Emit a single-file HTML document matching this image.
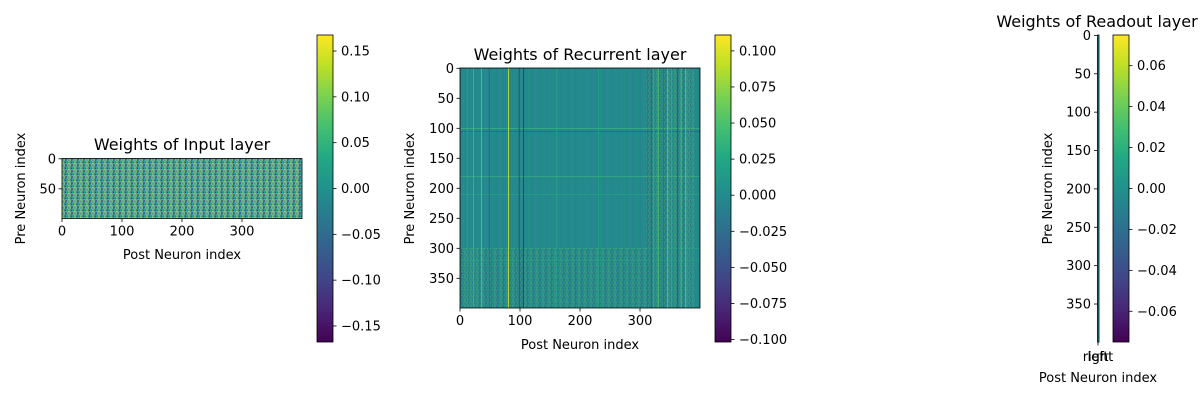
<!DOCTYPE html>
<html><head><meta charset="utf-8"><style>
body{margin:0;background:#fff;}
svg text{font-family:"DejaVu Sans","Liberation Sans",sans-serif;fill:#000;}
</style></head><body>
<svg id="fig" width="1200" height="400" xmlns="http://www.w3.org/2000/svg"></svg>
<script>
// ---- data ----
const inputRange = [-0.1675, 0.1675];
const recRange = [-0.1017, 0.111];
const readRange = [-0.075, 0.075];
const recBase = -0.003;
const recCols = [12, 22, 35, 48, 80, 98, 105, 160, 230, 318, 322, 330, 338, 345, 352, 362, 368, 375, 382];
const recColVals = [0.03, 0.05, 0.06, -0.04, 0.1, -0.07, -0.08, 0.02, 0.025, -0.06, 0.04, 0.05, -0.04, 0.06, 0.04, -0.05, 0.05, 0.06, 0.03];
const recRows = [100, 105, 180, 210, 300, 320];
const recRowVals = [0.05, -0.05, 0.045, 0.03, 0.03, 0.025];
const cb1Ticks = [0.15, 0.10, 0.05, 0.00, -0.05, -0.10, -0.15];
const cb1Labels = ["0.15", "0.10", "0.05", "0.00", "\u22120.05", "\u22120.10", "\u22120.15"];
const cb2Ticks = [0.1, 0.075, 0.05, 0.025, 0, -0.025, -0.05, -0.075, -0.1];
const cb2Labels = ["0.100", "0.075", "0.050", "0.025", "0.000", "\u22120.025", "\u22120.050", "\u22120.075", "\u22120.100"];
const cb3Ticks = [0.06, 0.04, 0.02, 0, -0.02, -0.04, -0.06];
const cb3Labels = ["0.06", "0.04", "0.02", "0.00", "\u22120.02", "\u22120.04", "\u22120.06"];
const xTicks = [0, 100, 200, 300];
const yTicksInput = [0, 50];
const yTicksRec = [0, 50, 100, 150, 200, 250, 300, 350];

const NS = "http://www.w3.org/2000/svg";
const svg = document.getElementById('fig');
function el(tag, attrs, parent) {
  const e = document.createElementNS(NS, tag);
  for (const k in attrs) e.setAttribute(k, attrs[k]);
  (parent || svg).appendChild(e);
  return e;
}
const VS = ["#440154","#482475","#414487","#355f8d","#2a788e","#21918c","#22a884","#44bf70","#7ad151","#bddf26","#fde725"];
function hex(h){return [parseInt(h.substr(1,2),16),parseInt(h.substr(3,2),16),parseInt(h.substr(5,2),16)];}
function viridis(t){
  t=Math.max(0,Math.min(1,t));const f=t*10,i=Math.min(9,Math.floor(f)),r=f-i;
  const a=hex(VS[i]),b=hex(VS[i+1]);
  return "rgb("+a.map((v,k)=>Math.round(v+(b[k]-v)*r)).join(",")+")";
}
function txt(x,y,s,size,anchor,parent){
  const t=el('text',{x:x,y:y,'font-size':size,'text-anchor':anchor||'middle'},parent);t.textContent=s;return t;
}
const defs = el('defs',{});
const g = el('linearGradient',{id:'vir',x1:0,y1:1,x2:0,y2:0},defs);
VS.forEach((c,i)=>el('stop',{offset:(i*10)+'%','stop-color':c},g));
// noise texture (style only)
const pat = el('pattern',{id:'noise',width:6,height:6,patternUnits:'userSpaceOnUse'},defs);
const pc=[0.55,0.3,0.75,0.45,0.2,0.65,0.5,0.9,0.35,0.6,0.1,0.7,0.4,0.8,0.25,0.5,0.62,0.38,0.72,0.15,0.58,0.45,0.85,0.3,0.52];
for(let i=0;i<25;i++){el('rect',{x:(i%5)*1.2,y:Math.floor(i/5)*1.2,width:1.2,height:1.2,fill:viridis(pc[i])},pat);}
const pat2 = el('pattern',{id:'stripes',width:7.2,height:240,patternUnits:'userSpaceOnUse'},defs);
const sc=[0.5,0.44,0.55,0.47,0.52,0.42];
for(let i=0;i<6;i++){el('rect',{x:i*1.2,y:0,width:1.2,height:240,fill:viridis(sc[i])},pat2);}

function colorbar(x,y0,y1,range,ticks,labels,name){
  const gr=el('g',{});
  
  
  el('rect',{x:x,y:y0,width:16,height:y1-y0,fill:'url(#vir)',stroke:'#000','stroke-width':0.8},gr);
  ticks.forEach((v,i)=>{
    const yy=y1-(v-range[0])/(range[1]-range[0])*(y1-y0);
    el('line',{x1:x+16,x2:x+19.5,y1:yy,y2:yy,stroke:'#000','stroke-width':0.8},gr);
    txt(x+24,yy+4.5,labels[i],13,'start',gr);
  });
}
function axes(x0,y0,w,h,xScale,yScale,xt,yt,name){
  const gr=el('g',{});
  
  
  el('rect',{x:x0,y:y0,width:w,height:h,fill:'none',stroke:'#000','stroke-width':0.8},gr);
  xt.forEach(v=>{const xx=x0+xScale(v);el('line',{x1:xx,x2:xx,y1:y0+h,y2:y0+h+3.5,stroke:'#000','stroke-width':0.8},gr);txt(xx,y0+h+17,String(v),13,'middle',gr);});
  yt.forEach(v=>{const yy=y0+yScale(v);el('line',{x1:x0,x2:x0-3.5,y1:yy,y2:yy,stroke:'#000','stroke-width':0.8},gr);txt(x0-6,yy+4.5,String(v),13,'end',gr);});
}

// ---- Panel 1: input ----
const hm1=el('rect',{x:62,y:158.5,width:240,height:60,fill:'url(#noise)'});


axes(62,158.5,240,60,v=>v*0.6,v=>v*0.6+0.3,xTicks,yTicksInput,'input-axes');
txt(182,150,"Weights of Input layer",16);
txt(182,259,"Post Neuron index",13);
const yl1=txt(0,0,"Pre Neuron index",13);yl1.setAttribute('transform','translate(25,188.5) rotate(-90)');

colorbar(317,35,342,inputRange,cb1Ticks,cb1Labels,'input-colorbar');

// ---- Panel 2: recurrent ----
const R0x=460,R0y=68,S=0.6;
const cn=v=>(v-recRange[0])/(recRange[1]-recRange[0]);
const hm2=el('g',{});


el('rect',{x:R0x,y:R0y,width:240,height:240,fill:viridis(cn(recBase))},hm2);
el('rect',{x:R0x,y:R0y,width:240,height:240,fill:'url(#stripes)',opacity:0.35},hm2);
el('rect',{x:R0x+310*S,y:R0y,width:80*S,height:300*S,fill:'url(#noise)',opacity:0.4},hm2);
el('rect',{x:R0x,y:R0y+300*S,width:390*S,height:100*S,fill:'url(#noise)',opacity:0.35},hm2);
recRows.forEach((r,i)=>{el('rect',{x:R0x,y:R0y+r*S,width:240,height:S*1.5,fill:viridis(cn(recRowVals[i])),opacity:0.6},hm2);});
recCols.forEach((c,i)=>{el('rect',{x:R0x+c*S,y:R0y,width:S*1.5,height:240,fill:viridis(cn(recColVals[i])),opacity:0.85},hm2);});
axes(R0x,R0y,240,240,v=>v*S,v=>v*S+0.3,xTicks,yTicksRec,'recurrent-axes');
txt(580,60,"Weights of Recurrent layer",16);
txt(580,349,"Post Neuron index",13);
const yl2=txt(0,0,"Pre Neuron index",13);yl2.setAttribute('transform','translate(414,188.5) rotate(-90)');

colorbar(715,35,342,recRange,cb2Ticks,cb2Labels,'recurrent-colorbar');

// ---- Panel 3: readout ----
const rs=307/400;
const ax3=el('g',{});


el('rect',{x:1097.5,y:35,width:1.5,height:307,fill:viridis(0.5),stroke:'#000','stroke-width':0.8},ax3);
yTicksRec.forEach(v=>{const yy=35+v*rs+0.4;el('line',{x1:1097.5,x2:1094,y1:yy,y2:yy,stroke:'#000','stroke-width':0.8},ax3);txt(1091,yy+4.5,String(v),13,'end',ax3);});
el('line',{x1:1098,x2:1098,y1:342,y2:345.5,stroke:'#000','stroke-width':0.8},ax3);
txt(1098,361,"right",13,'middle',ax3);
txt(1098,361,"left",13,'middle',ax3);
txt(1097,27,"Weights of Readout layer",16);
txt(1098,382,"Post Neuron index",13);
const yl3=txt(0,0,"Pre Neuron index",13);yl3.setAttribute('transform','translate(1052,188.5) rotate(-90)');

colorbar(1113,35,342,readRange,cb3Ticks,cb3Labels,'readout-colorbar');
</script>
</body></html>
